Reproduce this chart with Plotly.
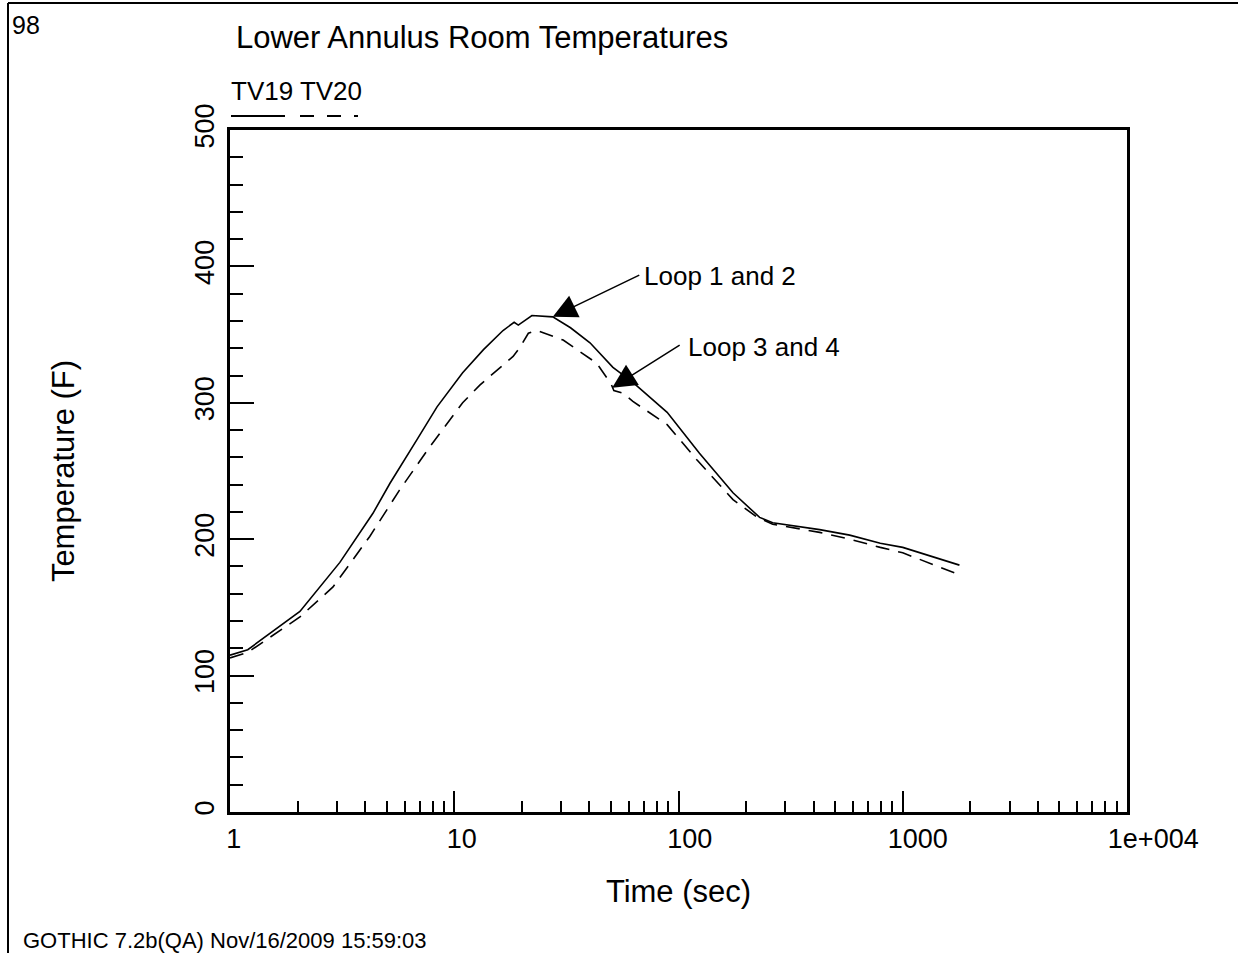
import math
import plotly.graph_objects as go

# ---- data ----
time_tv19 = [1, 1.2, 2.05, 3.09, 4.34, 5.17, 6.82, 8.38, 10.9, 13.5, 16.5, 18.5, 19.3,
             22.2, 27.5, 33, 40.3, 51, 62.6, 89, 124, 175, 230, 263, 426, 580, 794, 1000, 1790]
temp_tv19 = [115, 119, 147, 183, 219, 241, 273, 297, 322, 339, 353, 359, 357,
             364, 363, 355, 344, 326, 315, 293, 263, 234, 216, 212, 207, 203, 197, 194, 181]

time_tv20 = [1, 1.2, 2.05, 2.88, 4.2, 5.7, 7.8, 10.9, 13, 15.5, 18.3, 19.7, 21.4, 23.4,
             30.6, 43.2, 50, 51.5, 56.6, 62.6, 89, 121, 175, 225, 263, 426, 580, 794, 1000, 1790]
temp_tv20 = [113, 117, 143, 165, 202, 236, 268, 300, 313, 324, 334, 341, 351, 353,
             346, 329, 314, 309, 307, 301, 284, 258, 229, 216, 211, 205, 200, 194, 190, 174]

x_tickvals = [1, 10, 100, 1000, 10000]
x_ticktext = ["1", "10", "100", "1000", "1e+004"]
x_label_pad = [1, 2, 3, 4, 7]          # leading spaces: labels sit right of their tick
x_minor = [m * d for d in [1, 10, 100, 1000] for m in range(2, 10)]

# arrow tips (data) for the two callouts
callout_text = ["Loop 1 and 2", "Loop 3 and 4"]
callout_tip_t = [27.5, 50.6]
callout_tip_T = [363, 311]

FONT = "Arial, Liberation Sans, sans-serif"
W, H = 1238, 953
L, R, T, B = 230, 1127, 130, 812

def px(x):
    return (x - L) / (R - L)

def py(y):
    return (B - y) / (B - T)

fig = go.Figure()
fig.add_trace(go.Scatter(x=time_tv19, y=temp_tv19, mode="lines", name="TV19",
                         line=dict(color="black", width=1.6, dash="solid")))
fig.add_trace(go.Scatter(x=time_tv20, y=temp_tv20, mode="lines", name="TV20",
                         line=dict(color="black", width=1.6, dash="14px,9px")))

fig.update_layout(
    width=W, height=H,
    margin=dict(l=L, r=W - R, t=T, b=H - B, autoexpand=False),
    paper_bgcolor="white", plot_bgcolor="white",
    showlegend=False,
    font=dict(family=FONT, color="black", size=26),
)

fig.update_xaxes(
    type="log", range=[0, 4],
    tickmode="array", tickvals=x_tickvals,
    ticktext=["\u00a0" * n + s for n, s in zip(x_label_pad, x_ticktext)],
    ticks="inside", ticklen=21, tickwidth=1.5, tickcolor="black",
    minor=dict(tickmode="array", tickvals=x_minor, ticks="inside", ticklen=11,
               tickwidth=1.5, tickcolor="black"),
    showline=True, linewidth=2.5, linecolor="black", mirror=True,
    showgrid=False, zeroline=False,
    tickfont=dict(size=27, family=FONT), ticklabelstandoff=1,
    title=dict(text="Time (sec)", font=dict(size=31, family=FONT), standoff=28),
)
fig.update_yaxes(
    range=[0, 500], tickmode="linear", tick0=0, dtick=100,
    ticks="inside", ticklen=24, tickwidth=1.5, tickcolor="black",
    minor=dict(dtick=20, ticks="inside", ticklen=13, tickwidth=1.5, tickcolor="black"),
    tickangle=-90, ticklabelstandoff=2,
    showline=True, linewidth=2.5, linecolor="black", mirror=True,
    showgrid=False, zeroline=False,
    tickfont=dict(size=27, family=FONT),
    title=dict(text="Temperature (F)", font=dict(size=31, family=FONT), standoff=107),
)

annotations = [
    dict(text="98", x=px(10), y=py(25), xanchor="left", yanchor="middle", font=dict(size=25)),
    dict(text="Lower Annulus Room Temperatures", x=px(234), y=py(38), xanchor="left",
         yanchor="middle", font=dict(size=31)),
    dict(text="TV19 TV20", x=px(229), y=py(91), xanchor="left", yanchor="middle",
         font=dict(size=26)),
    dict(text="GOTHIC 7.2b(QA) Nov/16/2009 15:59:03", x=px(21), y=py(955), xanchor="left",
         yanchor="bottom", font=dict(size=22)),
    dict(text=callout_text[0], x=px(642), y=py(276), xanchor="left", yanchor="middle",
         font=dict(size=26)),
    dict(text=callout_text[1], x=px(686), y=py(347), xanchor="left", yanchor="middle",
         font=dict(size=26)),
]
for a in annotations:
    a.update(xref="paper", yref="paper", showarrow=False)

arrow_offsets = [(87, -42), (68, -43)]
for t, v, (ax, ay) in zip(callout_tip_t, callout_tip_T, arrow_offsets):
    annotations.append(dict(
        xref="x", yref="y", x=math.log10(t), y=v, ax=ax, ay=ay,
        axref="pixel", ayref="pixel",
        text=" ", font=dict(size=1), borderpad=0,
        showarrow=True, arrowhead=2, arrowsize=3.2, arrowwidth=1.5, arrowcolor="black"))
fig.update_layout(annotations=annotations)

shapes = [
    # page frame (top and left edges)
    dict(type="line", xref="paper", yref="paper", x0=px(8), x1=px(W + 5), y0=py(3), y1=py(3),
         line=dict(color="black", width=2)),
    dict(type="line", xref="paper", yref="paper", x0=px(8), x1=px(8), y0=py(3), y1=py(H + 5),
         line=dict(color="black", width=2)),
    # legend samples
    dict(type="line", xref="paper", yref="paper", x0=px(231), x1=px(285), y0=py(116), y1=py(116),
         line=dict(color="black", width=2)),
    dict(type="line", xref="paper", yref="paper", x0=px(300), x1=px(358), y0=py(116), y1=py(116),
         line=dict(color="black", width=2, dash="14px,13px")),
]
fig.update_layout(shapes=shapes)

fig.write_html("out.html", config={"displayModeBar": False},
               post_script="document.body.style.margin='0';document.body.style.overflow='hidden';")
